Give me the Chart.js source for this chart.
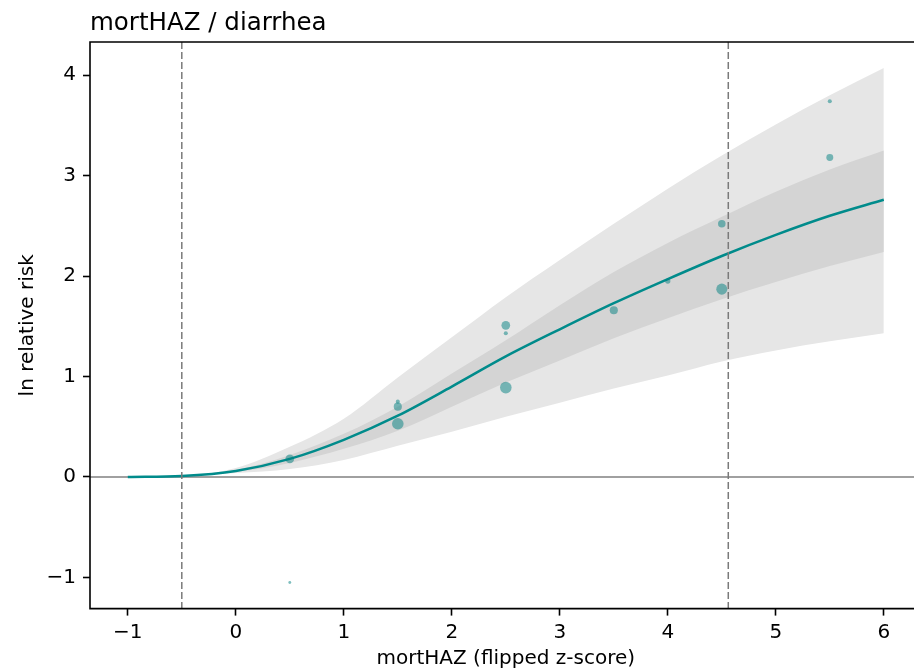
<!DOCTYPE html>
<html>
<head>
<meta charset="utf-8">
<script src="https://cdn.jsdelivr.net/npm/chart.js@4.4.1/dist/chart.umd.min.js"></script>
<style>
  html, body { margin: 0; padding: 0; background: #fff; overflow: hidden; }
  #wrap { position: relative; width: 914px; height: 671px; overflow: hidden; }
  #riskChart { position: absolute; left: 0; top: 0; }
</style>
</head>
<body>
<div id="wrap"><canvas id="riskChart" width="940" height="671"></canvas></div>
<script>
// ====================
// Data
// ====================

const xGrid = [-1, -0.5, 0, 0.5, 1, 1.5, 2, 2.5, 3, 3.5, 4, 4.5, 5, 5.5, 6];

const meanRisk = [0, 0.01, 0.06, 0.18, 0.37, 0.61, 0.90, 1.20, 1.47, 1.73, 1.97, 2.20, 2.41, 2.60, 2.76];
const innerHi = [0, 0.01, 0.07, 0.22, 0.43, 0.70, 1.03, 1.36, 1.71, 2.04, 2.33, 2.59, 2.84, 3.06, 3.25];
const innerLo = [0, 0.01, 0.05, 0.14, 0.28, 0.46, 0.70, 0.94, 1.16, 1.38, 1.58, 1.77, 1.94, 2.10, 2.24];
const outerHi = [0, 0.01, 0.09, 0.30, 0.58, 0.99, 1.39, 1.79, 2.16, 2.52, 2.87, 3.20, 3.51, 3.80, 4.07];
const outerLo = [0, 0.01, 0.04, 0.08, 0.17, 0.31, 0.45, 0.60, 0.74, 0.88, 1.01, 1.15, 1.26, 1.35, 1.43];

const studyX = [0.5, 0.5, 1.5, 1.5, 1.5, 2.5, 2.5, 2.5, 3.5, 4.0, 4.5, 4.5, 5.5, 5.5];
const studyY = [-1.05, 0.18, 0.75, 0.70, 0.53, 1.51, 1.43, 0.89, 1.66, 1.95, 2.52, 1.87, 3.74, 3.18];
const studyWeight = [0.25, 0.75, 0.35, 0.7, 1.0, 0.75, 0.35, 1.0, 0.7, 0.45, 0.65, 0.95, 0.35, 0.6];

const exposureBounds = [-0.5, 4.56];

const xTicks = [-1, 0, 1, 2, 3, 4, 5, 6];
const yTicks = [-1, 0, 1, 2, 3, 4];

// ====================
// Helpers
// ====================

const FONT = "'DejaVu Sans', sans-serif";
const TEAL = "#008b8b";

const toPoints = (ys) => xGrid.map((x, i) => ({ x: x, y: ys[i] }));
const minusLabel = (v) => (v < 0 ? "\u2212" + Math.abs(v) : String(v));

function band(ys, color, fillTo, order) {
  return {
    type: "line",
    data: toPoints(ys),
    borderWidth: 0,
    pointRadius: 0,
    backgroundColor: color,
    fill: fillTo,
    cubicInterpolationMode: "monotone",
    order: order,
  };
}

// reference lines, frame and title
const decorations = {
  id: "decorations",
  beforeDatasetsDraw(chart) {
    const { ctx, chartArea, scales } = chart;
    const y0 = scales.y.getPixelForValue(0);
    ctx.save();
    ctx.strokeStyle = "#808080";
    ctx.lineWidth = 1.5;
    ctx.beginPath();
    ctx.moveTo(chartArea.left, y0);
    ctx.lineTo(chartArea.right, y0);
    ctx.stroke();
    ctx.restore();
  },
  afterDatasetsDraw(chart) {
    const { ctx, chartArea, scales } = chart;
    const { left, right, top, bottom } = chartArea;
    ctx.save();
    ctx.strokeStyle = "#7a7a7a";
    ctx.lineWidth = 1.5;
    ctx.setLineDash([7, 3]);
    exposureBounds.forEach((v) => {
      const px = scales.x.getPixelForValue(v);
      ctx.beginPath();
      ctx.moveTo(px, top);
      ctx.lineTo(px, bottom);
      ctx.stroke();
    });

    // spines: top, left, bottom (right one sits outside the picture)
    ctx.setLineDash([]);
    ctx.strokeStyle = "#000";
    ctx.lineWidth = 1.6;
    ctx.beginPath();
    ctx.moveTo(right + 20, top);
    ctx.lineTo(left, top);
    ctx.lineTo(left, bottom);
    ctx.lineTo(right + 20, bottom);
    ctx.stroke();

    ctx.fillStyle = "#000";
    ctx.font = "24.5px " + FONT;
    ctx.textAlign = "left";
    ctx.textBaseline = "alphabetic";
    ctx.fillText("mortHAZ / diarrhea", left, top - 12);
    ctx.restore();
  },
};

// ====================
// Chart
// ====================

new Chart(document.getElementById("riskChart"), {
  data: {
    datasets: [
      {
        type: "line",
        data: toPoints(meanRisk),
        borderColor: TEAL,
        borderWidth: 2.5,
        pointRadius: 0,
        fill: false,
        cubicInterpolationMode: "monotone",
        order: 1,
      },
      band(innerHi, "#d4d4d4", "+1", 3),
      band(innerLo, "#d4d4d4", false, 3),
      band(outerHi, "#e6e6e6", "+1", 4),
      band(outerLo, "#e6e6e6", false, 4),
      {
        type: "scatter",
        data: studyX.map((x, i) => ({ x: x, y: studyY[i] })),
        backgroundColor: "rgba(0, 128, 128, 0.5)",
        borderWidth: 0,
        pointRadius: studyWeight.map((w) => w * 5.8),
        order: 0,
      },
    ],
  },

  options: {
    responsive: false,
    animation: false,
    events: [],

    layout: {
      padding: { top: 42, left: 0, right: 18.4, bottom: 0 },
    },

    plugins: {
      legend: { display: false },
      tooltip: { enabled: false },
    },

    scales: {
      x: {
        type: "linear",
        min: -1.35,
        max: 6.35,
        afterFit: (axis) => { axis.height = 62.4; },
        afterBuildTicks: (axis) => { axis.ticks = xTicks.map((v) => ({ value: v })); },
        grid: {
          drawOnChartArea: false,
          drawTicks: true,
          tickLength: 7,
          tickColor: "#000",
          tickWidth: 1.6,
        },
        border: { display: false },
        ticks: {
          color: "#000",
          padding: 5,
          maxRotation: 0,
          font: { family: FONT, size: 20 },
          callback: minusLabel,
        },
        title: {
          display: true,
          text: "mortHAZ (flipped z-score)",
          color: "#000",
          font: { family: FONT, size: 20 },
          padding: { top: 0, bottom: 0 },
        },
      },
      y: {
        type: "linear",
        min: -1.31,
        max: 4.33,
        afterFit: (axis) => { axis.width = 90; },
        afterBuildTicks: (axis) => { axis.ticks = yTicks.map((v) => ({ value: v })); },
        grid: {
          drawOnChartArea: false,
          drawTicks: true,
          tickLength: 7,
          tickColor: "#000",
          tickWidth: 1.6,
        },
        border: { display: false },
        ticks: {
          color: "#000",
          padding: 7,
          font: { family: FONT, size: 20 },
          callback: minusLabel,
        },
        title: {
          display: true,
          text: "ln relative risk",
          color: "#000",
          font: { family: FONT, size: 20 },
          padding: { top: 16, bottom: 0 },
        },
      },
    },
  },

  plugins: [decorations],
});
</script>
</body>
</html>
